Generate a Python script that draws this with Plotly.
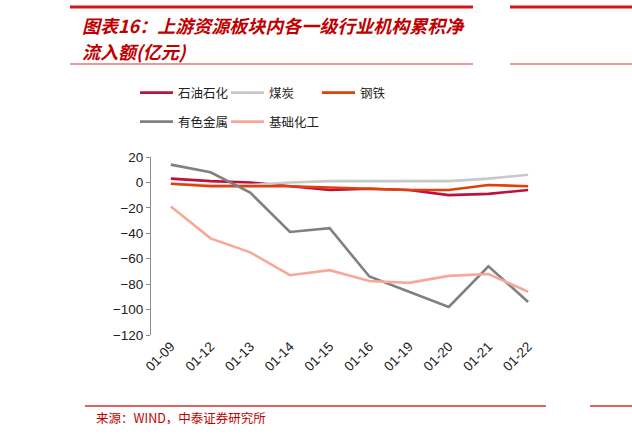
import plotly.graph_objects as go

# data
dates = ["01-09", "01-12", "01-13", "01-14", "01-15", "01-16", "01-19", "01-20", "01-21", "01-22"]
petro = [3, 1, 0, -3, -6, -5, -6, -10, -9, -6]
coal = [-1, -2, -2, 0, 1, 1, 1, 1, 3, 6]
steel = [-1, -3, -3, -3, -4, -5, -6, -6, -2, -3]
metals = [14, 8, -8, -39, -36, -74, -86, -98, -66, -94]
chem = [-19, -44, -55, -73, -69, -77.5, -79, -73.5, -72, -86]

series = [
    ("石油石化", petro, "#C0103C", "legend"),
    ("煤炭", coal, "#C8C8C8", "legend"),
    ("钢铁", steel, "#E0400A", "legend"),
    ("有色金属", metals, "#808080", "legend2"),
    ("基础化工", chem, "#F8A898", "legend2"),
]

W, H = 632, 436
cjk = "Noto Sans CJK SC"
red = "#C00000"

fig = go.Figure()
for name, vals, color, lg in series:
    fig.add_trace(go.Scatter(x=dates, y=vals, name=name, mode="lines",
                             line=dict(color=color, width=2.6), legend=lg))
# empty spacer entries so the last legend labels are not clipped
for lg in ["legend", "legend2"]:
    fig.add_trace(go.Scatter(x=[None], y=[None], name=" ", mode="lines",
                             line=dict(color="rgba(0,0,0,0)", width=0), legend=lg,
                             hoverinfo="skip"))

legend_common = dict(orientation="h", xref="container", yref="container",
                     xanchor="left", yanchor="middle", bgcolor="rgba(0,0,0,0)",
                     font=dict(family=cjk, size=12.5, color="#222"),
                     entrywidth=43, entrywidthmode="pixels", tracegroupgap=0,
                     itemwidth=33)

fig.update_layout(
    width=W, height=H,
    margin=dict(l=151, r=84, t=157, b=101),
    paper_bgcolor="white", plot_bgcolor="white",
    showlegend=True,
    legend=dict(x=135 / W, y=1 - 93 / H, **legend_common),
    legend2=dict(x=135 / W, y=1 - 122 / H, **legend_common),
    xaxis=dict(type="category", range=[-0.5, 9.5], showline=False, showgrid=False,
               ticks="", tickangle=-45, zeroline=False,
               tickfont=dict(family="Liberation Sans", size=13.5, color="#222")),
    xaxis2=dict(overlaying="x", anchor="free", position=120 / 140, range=[-0.5, 9.5],
                showline=True, linecolor="#8c8c8c", linewidth=1, showgrid=False,
                tickmode="array", tickvals=[i - 0.5 for i in range(11)],
                ticks="outside", ticklen=5, tickcolor="#8c8c8c", showticklabels=False,
                zeroline=False),
    yaxis=dict(range=[-120, 20], dtick=20, showgrid=False, zeroline=False,
               showline=True, linecolor="#8c8c8c", linewidth=1,
               ticks="outside", ticklen=4, tickcolor="#8c8c8c",
               tickfont=dict(family="Liberation Sans", size=13.5, color="#222")),
)

# header / footer decoration (pixel positions converted to paper fractions)
def px(x):
    return (x - 151) / 397

def py(y):
    return (335 - y) / 178

shapes = [
    (70, 473, 7, 3), (70, 473, 64, 1.2),
    (510, 632, 7, 3), (510, 632, 64, 1.2),
    (85, 546, 406, 1.5), (590, 632, 406, 1.5),
]
for x0, x1, y0, w in shapes:
    fig.add_shape(type="line", xref="paper", yref="paper",
                  x0=px(x0), x1=px(x1), y0=py(y0), y1=py(y0),
                  line=dict(color="#D01818" if w > 2 else "#D83030", width=w))

fig.add_annotation(xref="paper", yref="paper", x=px(80), y=py(25),
                   xanchor="left", yanchor="middle", showarrow=False,
                   text="<b><i>图表16：上游资源板块内各一级行业机构累积净</i></b>",
                   font=dict(family=cjk, size=18, color=red))
fig.add_annotation(xref="paper", yref="paper", x=px(80), y=py(51),
                   xanchor="left", yanchor="middle", showarrow=False,
                   text="<b><i>流入额(亿元)</i></b>",
                   font=dict(family=cjk, size=18, color=red))
fig.add_annotation(xref="paper", yref="paper", x=px(94), y=py(417),
                   xanchor="left", yanchor="middle", showarrow=False,
                   text="来源：WIND，中泰证券研究所",
                   font=dict(family=cjk, size=12.5, color=red))

fig.write_html("out.html", config={"displayModeBar": False},
               post_script="document.body.style.margin='0';")
